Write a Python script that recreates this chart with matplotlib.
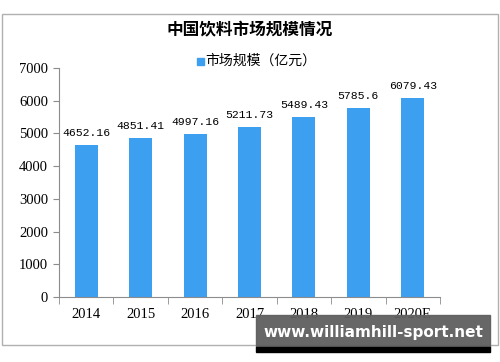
import matplotlib
matplotlib.use("Agg")
import matplotlib.pyplot as plt
from matplotlib.patches import Rectangle

plt.rcParams['font.family'] = ['Noto Sans CJK SC', 'DejaVu Sans']

years = ["2014", "2015", "2016", "2017", "2018", "2019", "2020E"]
values = [4652.16, 4851.41, 4997.16, 5211.73, 5489.43, 5785.6, 6079.43]
value_labels = ["4652.16", "4851.41", "4997.16", "5211.73", "5489.43", "5785.6", "6079.43"]
yticks = [0, 1000, 2000, 3000, 4000, 5000, 6000, 7000]
title = "中国饮料市场规模情况"
legend_label = "市场规模（亿元）"
banner = "www.williamhill-sport.net"

bar_color = "#3d9ff0"
axis_color = "#8c8c8c"

fig = plt.figure(figsize=(5, 3.62), dpi=100)
# outer border
fig.patches.append(Rectangle((2/500, 1-345/362), 496/500, (345-14)/362,
                             transform=fig.transFigure, fill=False,
                             edgecolor="#b0b0b0", lw=1))

ax = fig.add_axes([59/500, 1-297/362, (440-59)/500, (297-68)/362])
x = list(range(len(years)))
bars = ax.bar(x, values, width=0.42, color=bar_color, zorder=2)
ax.set_xlim(-0.5, len(years) - 0.5)
ax.set_ylim(0, 7000)
ax.set_yticks(yticks)
ax.set_yticklabels([str(t) for t in yticks], family="Liberation Serif", fontsize=10.5)
ax.set_xticks(x)
ax.set_xticklabels(years, family="Liberation Serif", fontsize=10.5)
ax.tick_params(axis='x', length=0, pad=8)
ax.set_xticks([i - 0.5 for i in range(len(years) + 1)], minor=True)
ax.tick_params(axis='x', which='minor', length=5, color=axis_color, direction='out')
ax.tick_params(axis='y', length=4, color=axis_color, pad=4)
for s in ["top", "right"]:
    ax.spines[s].set_visible(False)
for s in ["left", "bottom"]:
    ax.spines[s].set_color(axis_color)

for xi, v, lab in zip(x, values, value_labels):
    ax.annotate(lab, (xi, v), xytext=(0, 5), textcoords="offset points",
                ha="center", va="bottom", family="Liberation Mono", fontsize=8.2)

fig.text(0.5, 1-30/362, title, ha="center", va="center", fontsize=12, fontweight="bold")
# legend
fig.patches.append(Rectangle((197/500, 1-65/362), 7/500, 7/362, transform=fig.transFigure,
                             color=bar_color))
fig.text(205/500, 1-61/362, legend_label, ha="left", va="center", fontsize=10)

# banner
fig.patches.append(Rectangle((256/500, 1-347/362), (490-256)/500, (347-315)/362,
                             transform=fig.transFigure, color="#5f5f5f", alpha=0.95, zorder=5))
fig.patches.append(Rectangle((256/500, 1-352/362), (490-256)/500, 5/362,
                             transform=fig.transFigure, color="black", zorder=5))
fig.text(373/500, 1-332/362, banner, ha="center", va="center", color="white",
         fontsize=11, fontweight="bold", family="DejaVu Sans", zorder=6)

fig.savefig("out.png", dpi=100)
